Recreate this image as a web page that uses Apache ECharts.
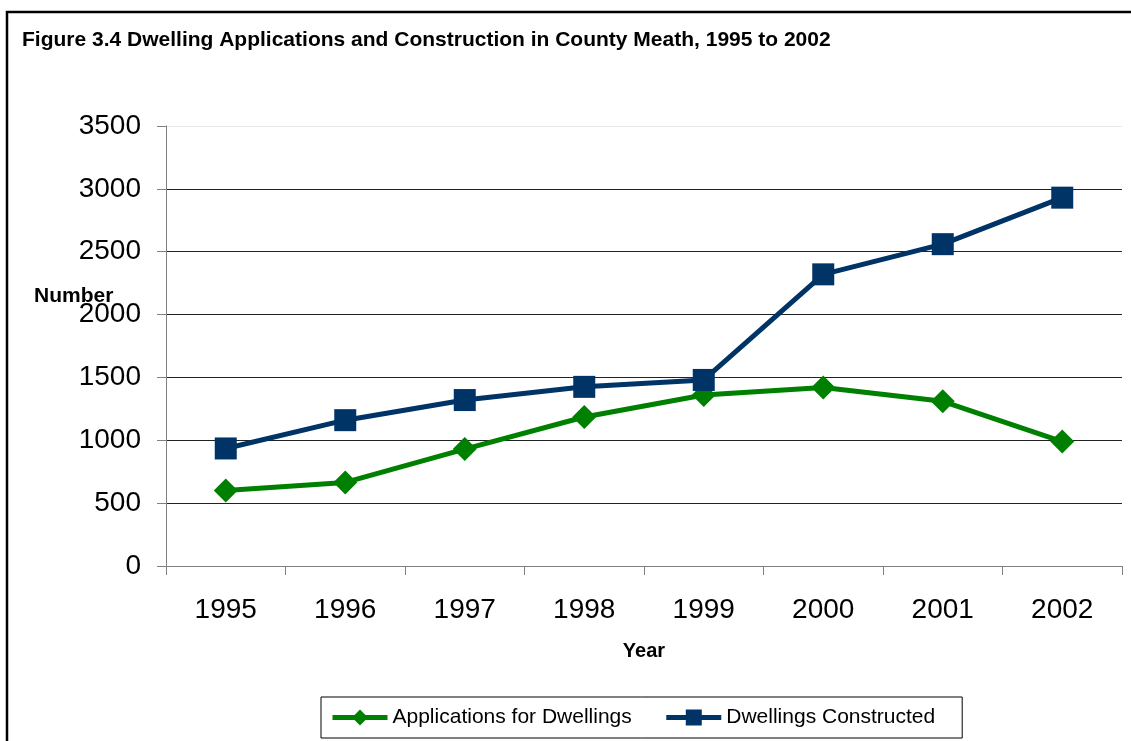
<!DOCTYPE html>
<html>
<head>
<meta charset="utf-8">
<script src="https://cdn.jsdelivr.net/npm/echarts@6/dist/echarts.min.js"></script>
<style>
  html, body { margin: 0; padding: 0; background: #fff; }
</style>
</head>
<body>
<div id="myChart" style="width: 1131px; height: 741px"></div>
<script>
// data
var years = ["1995", "1996", "1997", "1998", "1999", "2000", "2001", "2002"];
var applications = [600, 665, 930, 1185, 1360, 1420, 1310, 990];
var constructed = [935, 1160, 1320, 1425, 1480, 2320, 2560, 2930];
var yTicks = { min: 0, max: 3500, interval: 500 };

var myChart = echarts.init(document.getElementById("myChart"));
var font = "Liberation Sans, Arial, sans-serif";

var option = {
  backgroundColor: "#fff",
  textStyle: { fontFamily: font },
  title: {
    text: "Figure 3.4 Dwelling Applications and Construction in County Meath, 1995 to 2002",
    left: 22,
    top: 30,
    padding: 0,
    textStyle: { fontSize: 21, fontWeight: "bold", color: "#000", fontFamily: font }
  },
  graphic: [
    {
      type: "rect",
      shape: { x: 7, y: 12, width: 1300, height: 900 },
      style: { fill: "none", stroke: "#000", lineWidth: 2.5 },
      silent: true
    },
    {
      type: "text",
      left: 34,
      top: 286,
      style: { text: "Number", font: "bold 21px " + font, fill: "#000" }
    }
  ],
  legend: {
    left: 321,
    top: 697,
    padding: [10, 27, 10, 9],
    itemGap: 32,
    itemWidth: 55,
    itemHeight: 20,
    borderColor: "#000",
    borderWidth: 1,
    lineStyle: { width: 5 },
    textStyle: { fontSize: 21, color: "#000", fontFamily: font },
    data: ["Applications for Dwellings", "Dwellings Constructed"]
  },
  grid: {
    left: 166,
    right: 9,
    top: 126,
    bottom: 175,
    containLabel: false
  },
  xAxis: {
    type: "category",
    data: years,
    boundaryGap: true,
    name: "Year",
    nameLocation: "middle",
    nameGap: 75,
    nameTextStyle: { fontSize: 20, fontWeight: "bold", color: "#000", fontFamily: font },
    axisLine: { lineStyle: { color: "#808080", width: 1 } },
    axisTick: { show: true, length: 9, alignWithLabel: false, lineStyle: { color: "#808080" } },
    axisLabel: { fontSize: 28, color: "#000", margin: 30, fontFamily: font }
  },
  yAxis: {
    type: "value",
    min: yTicks.min,
    max: yTicks.max,
    interval: yTicks.interval,
    axisLine: { show: true, lineStyle: { color: "#808080", width: 1 } },
    axisTick: { show: true, length: 9, lineStyle: { color: "#808080" } },
    axisLabel: {
      fontSize: 28,
      color: "#000",
      margin: 25,
      fontFamily: font,
      formatter: function (v) { return String(v); }
    },
    splitLine: {
      show: true,
      lineStyle: {
        color: ["#222", "#222", "#222", "#222", "#222", "#222", "#222", "#e8e8e8"],
        width: 1
      }
    }
  },
  series: [
    {
      name: "Applications for Dwellings",
      type: "line",
      data: applications,
      symbol: "diamond",
      symbolSize: 24,
      lineStyle: { color: "#008000", width: 5 },
      itemStyle: { color: "#008000" },
      z: 3
    },
    {
      name: "Dwellings Constructed",
      type: "line",
      data: constructed,
      symbol: "rect",
      symbolSize: 22,
      lineStyle: { color: "#003366", width: 5 },
      itemStyle: { color: "#003366" },
      z: 4
    }
  ]
};
myChart.setOption(option);

window.addEventListener("resize", function () {
  myChart.resize();
});
</script>
</body>
</html>
